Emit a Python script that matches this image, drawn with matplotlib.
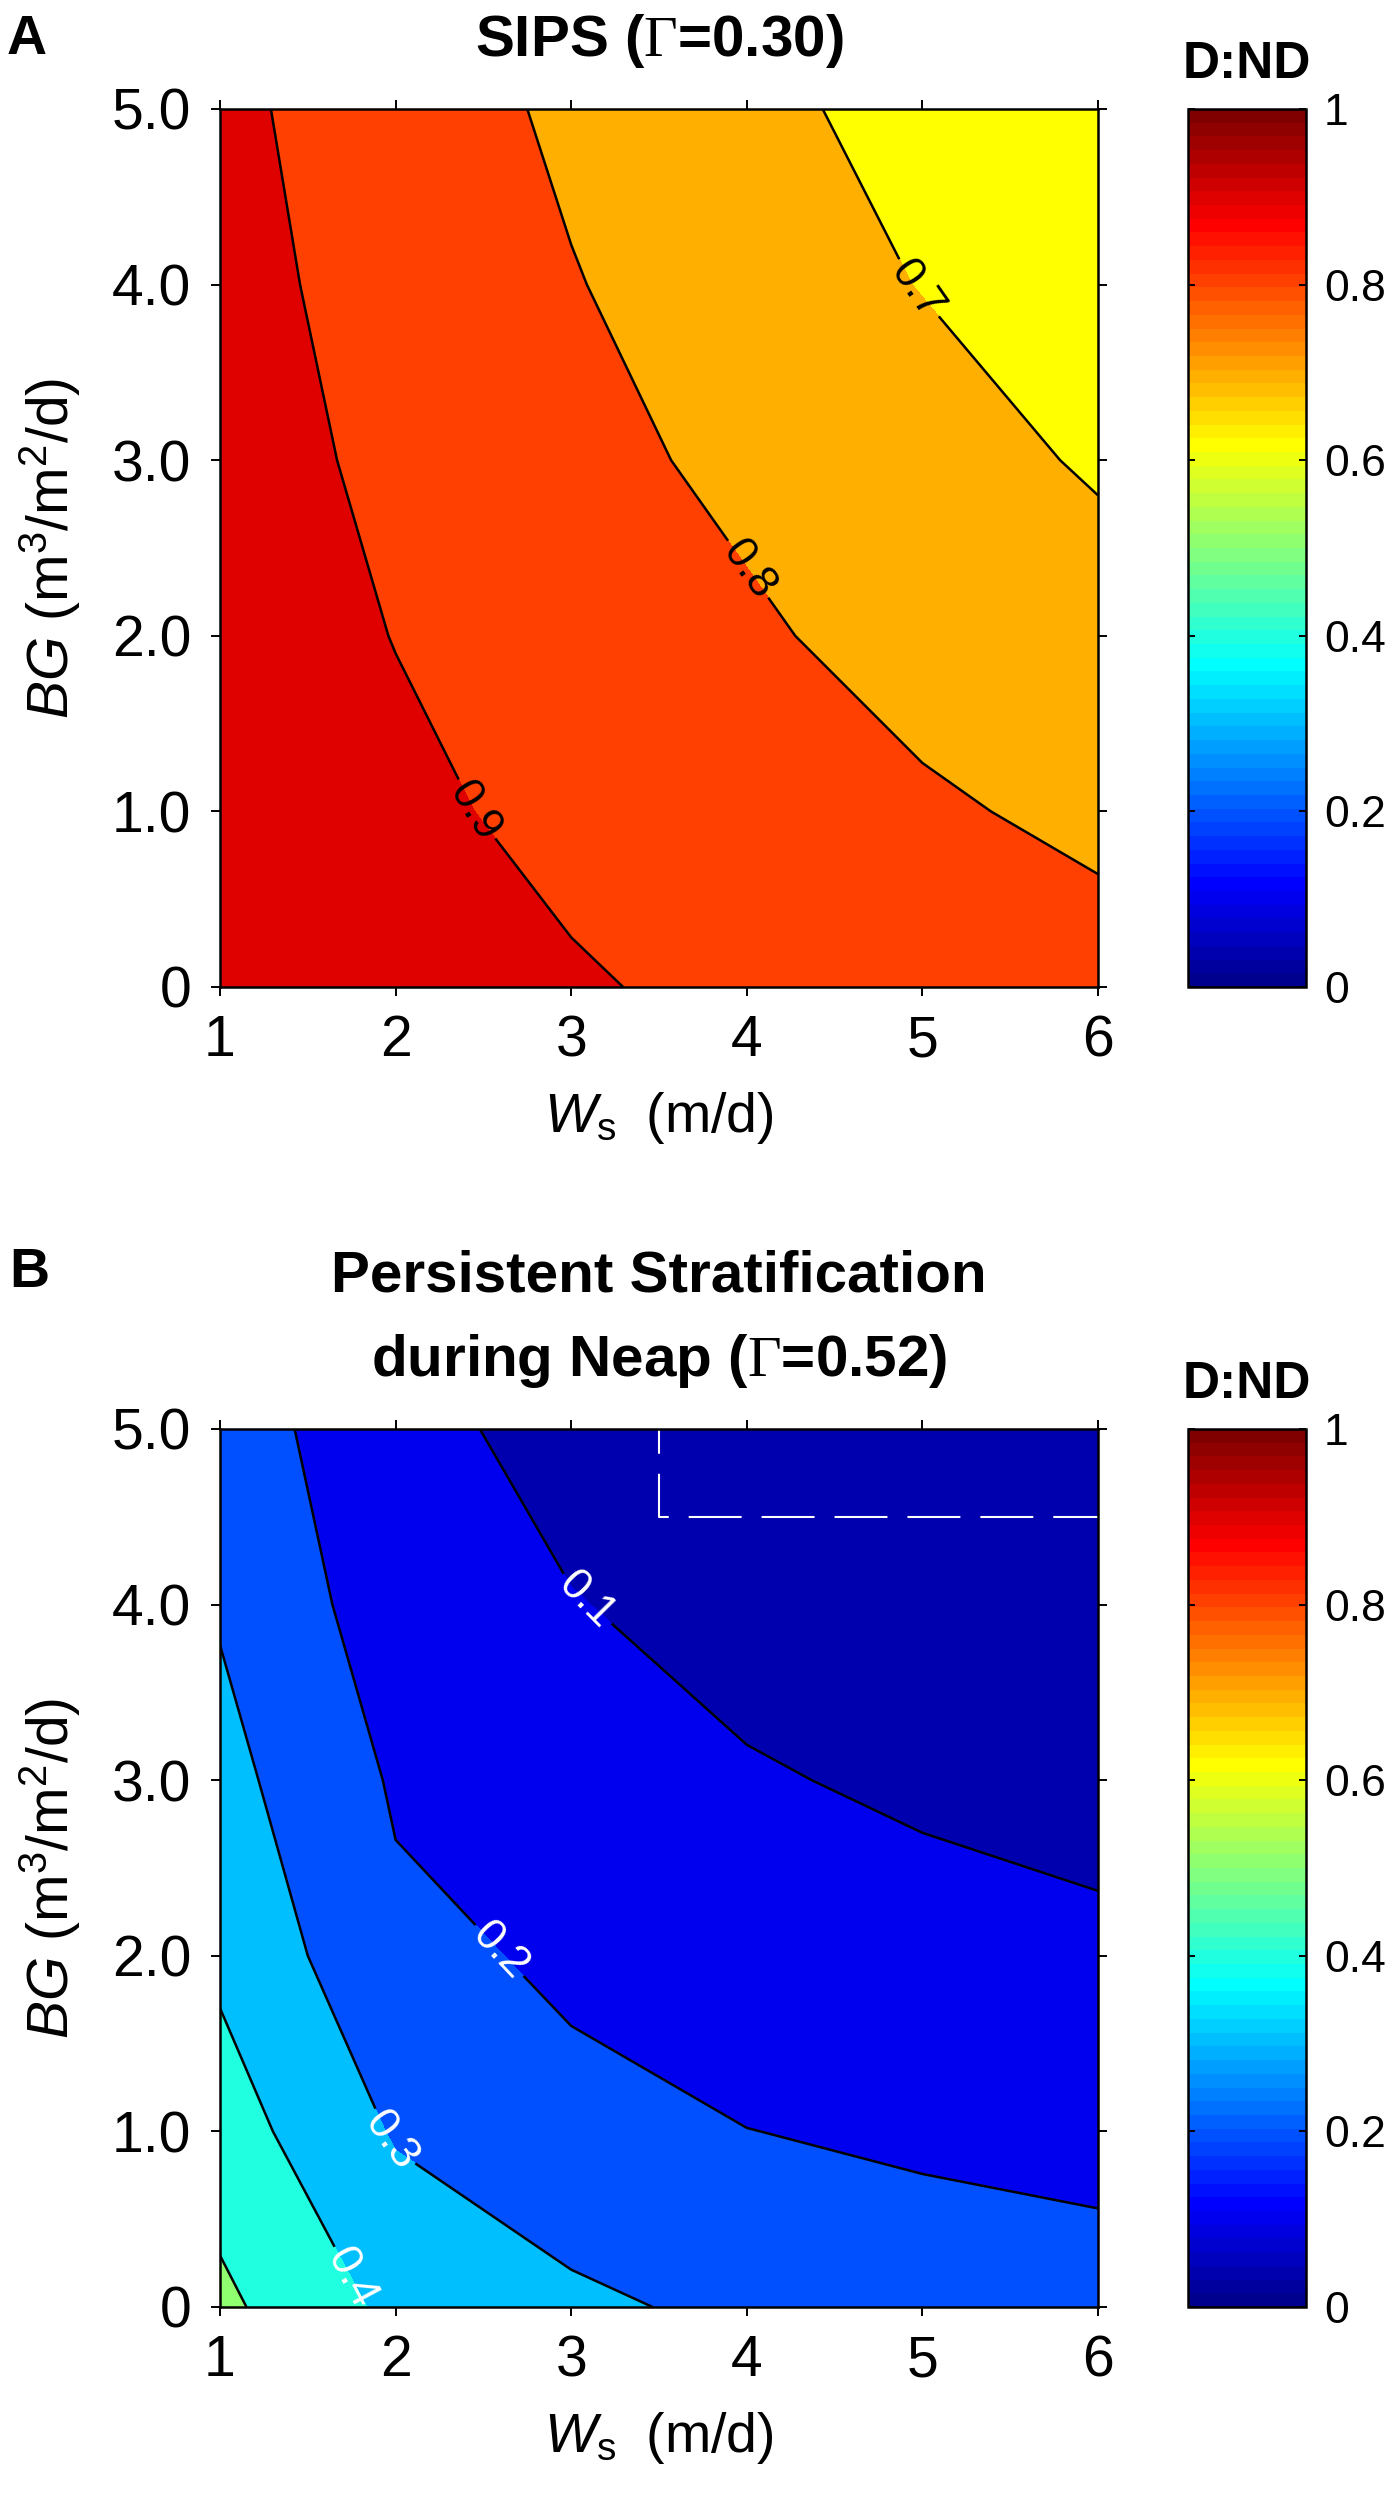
import numpy as np
import matplotlib
matplotlib.use("Agg")
import matplotlib.pyplot as plt
from matplotlib.colors import ListedColormap, Normalize
from matplotlib.cm import ScalarMappable

plt.rcParams['font.family'] = ['Liberation Sans', 'DejaVu Sans']
plt.rcParams['mathtext.fontset'] = 'custom'
plt.rcParams['mathtext.rm'] = 'Liberation Sans'
plt.rcParams['mathtext.it'] = 'Liberation Sans:italic'
plt.rcParams['mathtext.bf'] = 'Liberation Sans:bold'
plt.rcParams['mathtext.sf'] = 'Liberation Serif'

# grid of the model runs
ws = [1, 2, 3, 4, 5, 6]          # W_s (m/d)
bg = [0, 1, 2, 3, 4, 5]          # BG (m3/m2/d)

# D:ND, one row per BG value (BG = 0 ... 5), columns W_s = 1 ... 6
dnd_sips = [
    [0.995, 0.945, 0.913, 0.869, 0.857, 0.845],
    [0.985, 0.927, 0.867, 0.840, 0.816, 0.775],
    [0.970, 0.897, 0.850, 0.816, 0.758, 0.744],
    [0.950, 0.875, 0.833, 0.775, 0.740, 0.689],
    [0.931, 0.863, 0.805, 0.749, 0.697, 0.660],
    [0.920, 0.851, 0.783, 0.735, 0.654, 0.620],
]
dnd_neap = [
    [0.522, 0.376, 0.322, 0.2745, 0.2375, 0.232],
    [0.447, 0.291, 0.2185, 0.201, 0.188, 0.175],
    [0.380, 0.220, 0.1877, 0.151, 0.1187, 0.1088],
    [0.331, 0.1897, 0.130, 0.1047, 0.092, 0.085],
    [0.2907, 0.149, 0.1023, 0.0814, 0.070, 0.065],
    [0.260, 0.1188, 0.0796, 0.065, 0.055, 0.050],
]

sips_fill_levels = [0.6, 0.7, 0.8, 0.9, 1.0]
sips_line_levels = [0.7, 0.8, 0.9]
sips_label_at = [(5.0, 4.0), (3.98, 2.36), (2.44, 1.0)]

neap_fill_levels = [0.0, 0.1, 0.2, 0.3, 0.4, 0.5, 0.6]
neap_line_levels = [0.1, 0.2, 0.3, 0.4, 0.5]
neap_label_levels = [0.1, 0.2, 0.3, 0.4]
neap_label_at = [(3.06, 4.0), (2.56, 2.0), (1.99, 0.96), (1.75, 0.17)]

# dashed white outline in panel B
box_ws = [3.5, 3.5, 6.0]
box_bg = [5.0, 4.5, 4.5]

cbar_ticks = [0, 0.2, 0.4, 0.6, 0.8, 1.0]
cbar_ticklabels = ['0', '0.2', '0.4', '0.6', '0.8', '1']
y_ticklabels = ['0', '1.0', '2.0', '3.0', '4.0', '5.0']


def matlab_jet(m=64):
    n = int(np.ceil(m / 4))
    u = np.concatenate([np.arange(1, n + 1) / n, np.ones(n - 1), np.arange(n, 0, -1) / n])
    g = int(np.ceil(n / 2)) - (1 if m % 4 == 1 else 0) + np.arange(1, len(u) + 1)
    r = g + n
    b = g - n
    J = np.zeros((m, 3))
    k = r <= m
    J[r[k] - 1, 0] = u[k]
    k = g <= m
    J[g[k] - 1, 1] = u[k]
    k = b >= 1
    J[b[k] - 1, 2] = u[k]
    return J


jet = matlab_jet(64)
jet_cmap = ListedColormap(jet)
sips_colors = [jet[39], jet[44], jet[51], jet[57]]
neap_colors = [jet[2], jet[6], jet[12], jet[19], jet[25], jet[32]]

W, H = 1396, 2500
fig = plt.figure(figsize=(W / 100, H / 100), dpi=100)


def fx(px):
    return px / W


def fy(py):
    return 1 - py / H


def panel(top, z, flev, fcol, llev, lab_lev, lab_at, lab_col):
    ax = fig.add_axes([fx(220), fy(top + 878), 878 / W, 878 / H])
    X, Y = np.meshgrid(ws, bg)
    Z = np.array(z)
    ax.contourf(X, Y, Z, levels=flev, colors=fcol)
    cs = ax.contour(X, Y, Z, levels=llev, colors='k', linewidths=1.8)
    ax.clabel(cs, levels=lab_lev, manual=lab_at, inline=True, inline_spacing=4,
              fontsize=32, colors=lab_col, fmt='%.1f')
    ax.set_xlim(1, 6)
    ax.set_ylim(0, 5)
    ax.set_xticks(ws)
    ax.set_yticks(bg)
    ax.set_yticklabels(y_ticklabels)
    ax.tick_params(direction='out', length=6.8, width=1.4, top=True, right=True,
                   labelsize=41)
    ax.tick_params(axis='x', pad=13)
    ax.tick_params(axis='y', pad=14)
    for s in ax.spines.values():
        s.set_linewidth(1.8)
    ax.set_xlabel(r'$\mathit{W}_{\mathrm{s}}\;$ (m/d)', fontsize=40)
    ax.set_ylabel(r'$\mathit{BG}$ (m$^{3}$/m$^{2}$/d)', fontsize=41)
    ax.xaxis.set_label_coords(0.5, -0.117)
    ax.yaxis.set_label_coords(-0.156, 0.5)

    cax = fig.add_axes([fx(1188), fy(top + 878), 118 / W, 878 / H])
    cb = fig.colorbar(ScalarMappable(norm=Normalize(0, 1), cmap=jet_cmap), cax=cax)
    cb.set_ticks(cbar_ticks)
    cb.set_ticklabels(cbar_ticklabels)
    cb.outline.set_linewidth(1.8)
    cax.tick_params(direction='in', left=True, right=True, length=5, width=1.4,
                    labelsize=32, pad=13)
    fig.text(fx(1247), fy(top - 31), 'D:ND', ha='center', va='baseline',
             fontsize=37, fontweight='bold')
    return ax


ax_a = panel(109, dnd_sips, sips_fill_levels, sips_colors, sips_line_levels,
             sips_line_levels, sips_label_at, 'k')
ax_b = panel(1429, dnd_neap, neap_fill_levels, neap_colors, neap_line_levels,
             neap_label_levels, neap_label_at, 'w')
ax_b.plot(box_ws, box_bg, color='w', lw=1.5, ls=(13.5, (25.4, 9.6)),
          dash_capstyle='butt')

fig.text(fx(7), fy(54), 'A', fontsize=40, fontweight='bold', va='baseline')
fig.text(fx(9), fy(1287), 'B', fontsize=40, fontweight='bold', va='baseline')
fig.text(fx(659), fy(56), r'SIPS ($\mathsf{\Gamma}$=0.30)', ha='center',
         va='baseline', fontsize=42, fontweight='bold')
fig.text(fx(659), fy(1291), 'Persistent Stratification', ha='center',
         va='baseline', fontsize=42, fontweight='bold')
fig.text(fx(659), fy(1376), r'during Neap ($\mathsf{\Gamma}$=0.52)', ha='center',
         va='baseline', fontsize=42, fontweight='bold')

fig.savefig('out.png', dpi=100)
